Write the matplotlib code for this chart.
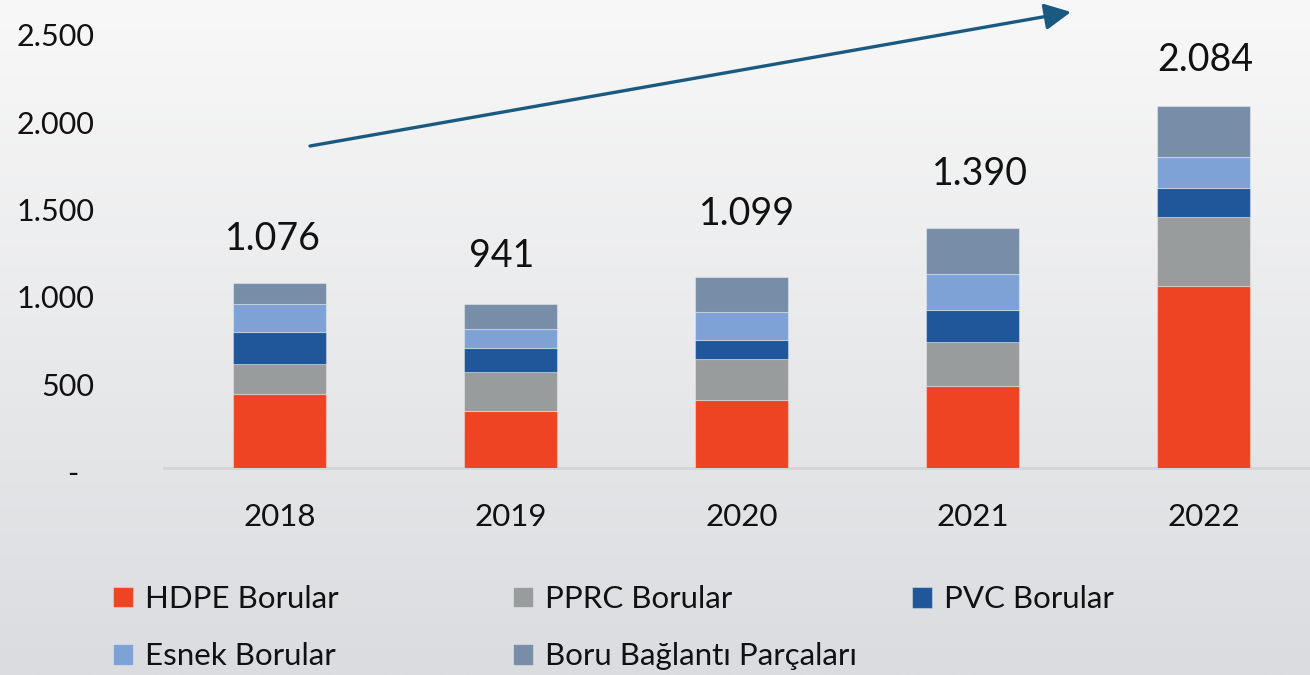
import numpy as np
import matplotlib.pyplot as plt
from matplotlib.transforms import ScaledTranslation

plt.rcParams['font.family'] = ['Lato', 'DejaVu Sans']

years = ['2018', '2019', '2020', '2021', '2022']
series_names = ['HDPE Borular', 'PPRC Borular', 'PVC Borular', 'Esnek Borular', 'Boru Bağlantı Parçaları']
hdpe = [422, 328, 391, 471, 1043]
pprc = [173, 220, 235, 248, 392]
pvc = [185, 139, 109, 185, 169]
esnek = [157, 109, 157, 204, 176]
boru = [124, 141, 200, 263, 292]
totals_text = ['1.076', '941', '1.099', '1.390', '2.084']
yticks = [0, 500, 1000, 1500, 2000, 2500]
ytick_labels = ['-  ', '500', '1.000', '1.500', '2.000', '2.500']

colors = ['#ef4423', '#999c9d', '#20579b', '#7fa2d6', '#788ea8']
# label offsets from bar top, in pixels (dx, dy)
label_dx = [-7, -9, 5.5, 7.5, 2]
label_dy = [44, 48, 63, 54, 46]

W, H = 1310, 675
fig = plt.figure(figsize=(W / 100, H / 100), dpi=100)

# background gradient
bg = fig.add_axes([0, 0, 1, 1], zorder=-10)
grad = np.linspace(0, 1, 256).reshape(-1, 1)
top = np.array([248, 248, 248]) / 255
bot = np.array([219, 220, 223]) / 255
img = top + (bot - top) * grad[:, :, None]
bg.imshow(img, aspect='auto', extent=[0, 1, 0, 1])
bg.axis('off')

ax = fig.add_axes([164 / W, (H - 468) / H, (W - 164) / W, (468 - 31.25) / H])
ax.patch.set_alpha(0)

data = [hdpe, pprc, pvc, esnek, boru]
x = np.arange(len(years))
bottom = np.zeros(len(years))
bars = []
for vals, name, c in zip(data, series_names, colors):
    b = ax.bar(x, vals, 0.4, bottom=bottom, color=c, label=name,
               edgecolor=(1, 1, 1, 0.35), linewidth=0.8, zorder=3)
    bars.append(b)
    bottom += np.array(vals)

for i, t in enumerate(totals_text):
    ax.annotate(t, xy=(x[i], bottom[i]), xytext=(label_dx[i] * 0.72, label_dy[i] * 0.72),
                textcoords='offset points', ha='center', va='center',
                fontsize=27, color='#111111')

ax.set_xlim(-0.5, -0.5 + (W - 164) / 231)
ax.set_ylim(0, 2500)
ax.set_xticks(x)
ax.set_xticklabels(years, fontsize=22.5, color='#111111')
ax.set_yticks(yticks)
ax.set_yticklabels(ytick_labels, fontsize=22, color='#111111')
ax.tick_params(axis='both', length=0)
ax.tick_params(axis='y', pad=50)
ax.tick_params(axis='x', pad=25)
for lab in ax.get_yticklabels():
    lab.set_transform(lab.get_transform() + ScaledTranslation(0, -0.035, fig.dpi_scale_trans))
for s in ['top', 'right', 'left']:
    ax.spines[s].set_visible(False)
ax.spines['bottom'].set_color('#d3d4d6')
ax.spines['bottom'].set_linewidth(2)
ax.spines['bottom'].set_zorder(2)

# trend arrow
ax.annotate('', xy=(1071, H - 12), xytext=(310, H - 146),
            xycoords='figure pixels', textcoords='figure pixels',
            arrowprops=dict(arrowstyle='-|>,head_length=0.8,head_width=0.4',
                            mutation_scale=20, lw=2.4, color='#1a5a80',
                            shrinkA=0, shrinkB=0))

# legend: three fixed-position columns
leg_kw = dict(frameon=False, fontsize=22.5, handlelength=0.64, handleheight=0.64,
              handletextpad=0.38, borderpad=0, borderaxespad=0, labelspacing=0.94,
              labelcolor='#111111', loc='center left')
cols = [([bars[0], bars[3]], [series_names[0], series_names[3]], 113, (599.5 + 656) / 2),
        ([bars[1], bars[4]], [series_names[1], series_names[4]], 513, (599.5 + 656) / 2),
        ([bars[2]], [series_names[2]], 912, 599.5)]
for hs, ls, lx, ly in cols:
    fig.legend(hs, ls, bbox_to_anchor=(lx / W, (H - ly) / H), **leg_kw)

fig.savefig('out.png', dpi=100)
